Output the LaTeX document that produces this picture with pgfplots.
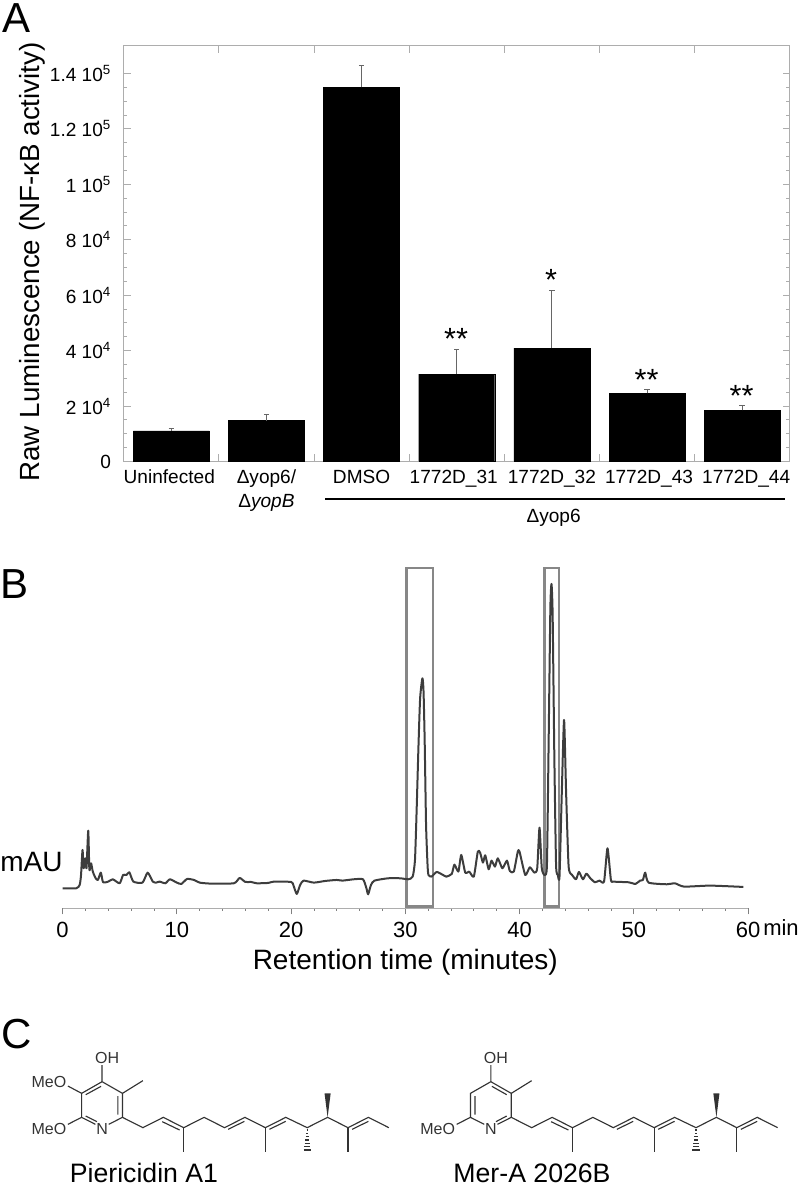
\documentclass[border=0pt]{standalone}
\usepackage{pgfplots}
\pgfplotsset{compat=1.18}
\usepackage{fontspec}
\setmainfont{Liberation Sans}
\definecolor{framegray}{gray}{0.68}
\definecolor{errgray}{gray}{0.4}
\definecolor{boxgray}{gray}{0.53}
\definecolor{tracegray}{gray}{0.24}
\definecolor{molgray}{gray}{0.2}
\newcommand{\fs}[1]{\fontsize{#1}{#1}\selectfont}
\newcommand{\ringsingle}{\draw (200,215)--(240,250)--(240,322)--(213,343) (187,343)--(160,322)--(160,250)--(200,215);
  \draw (200,215)--(200,165) (240,250)--(280,212);
  \draw (240,322)--(280,353)--(320,322)--(360,353)--(400,322)--(440,353)--(480,322)--(520,353)--(560,322)--(602,353)--(642,322)--(682,353)--(722,322)--(762,353);
  \draw (360,353)--(360,425) (520,353)--(520,425) (682,353)--(682,425);
  \draw (318,335)--(352,360) (447,358)--(479,334) (528,358)--(560,334) (690,358)--(722,334);
  \fill (642,322)--(636,250)--(648,250)--cycle;
  \foreach \yy/\ww in {360/1,370/2,380/3,390/4,400/5,410/6,420/7} {\draw (602-\ww,\yy)--(602+\ww,\yy);}
  \node[inner sep=0,font=\fs{12}] at (210,145) {OH};
  \node[inner sep=0,font=\fs{12}] at (200,357) {N};
  \node[anchor=east,inner sep=0,font=\fs{12}] at (131,357) {MeO};
  \draw (160,322)--(133,343);
}
\begin{document}
\begin{tikzpicture}
\path[use as bounding box] (0,0) rectangle (600pt,-891pt);
% ---------- Panel A
\begin{axis}[
  at={(92.8pt,-346.1pt)}, anchor=south west, scale only axis,
  width=499.5pt, height=311.8pt,
  xmin=0, xmax=7, ymin=0, ymax=150000,
  axis line style={framegray,line width=0.6pt},
  tick align=inside, xtick pos=both, ytick pos=both,
  major tick length=5.25pt, minor tick length=2.6pt,
  tick style={framegray,line width=0.6pt},
  scaled y ticks=false,
  ytick={0,20000,40000,60000,80000,100000,120000,140000},
  yticklabels={0,2 10\textsuperscript{4},4 10\textsuperscript{4},6 10\textsuperscript{4},8 10\textsuperscript{4},1 10\textsuperscript{5},1.2 10\textsuperscript{5},1.4 10\textsuperscript{5}},
  minor y tick num=3,
  yticklabel style={font=\fs{14.3},xshift=-6pt},
  xtick={0.5,1.5,2.5,3.5,4.5,5.5,6.5},
  xticklabels={\hspace*{-3pt}Uninfected,Δyop6/\\Δ\textit{yopB},DMSO,\hspace*{-4.5pt}1772D\_31,1772D\_32,\hspace*{3pt}1772D\_43,\hspace*{6pt}1772D\_44},
  x tick style={draw=none},
  xticklabel style={font=\fontsize{14.3}{18}\selectfont,align=center,anchor=north,yshift=-3pt},
  extra x ticks={1,2,3,4,5,6},
  extra x tick labels={},
  extra x tick style={x tick style={draw=framegray,line width=0.6pt},tick style={draw=framegray,line width=0.6pt}},
  ylabel={Raw Luminescence (NF-κB activity)},
  ylabel style={font=\fs{20.8},at={(axis description cs:0,0.48)},anchor=south,yshift=55pt},
]
\addplot[ybar,bar width=57pt,fill=black,draw=black,line width=0.3pt,
  error bars/.cd,y dir=plus,y explicit,
  error bar style={errgray,line width=0.75pt},
  error mark options={errgray,line width=0.75pt,mark size=2pt,rotate=90}]
 table[x=x,y=y,y error=e]{
x y e
0.5 11050 750
1.5 14780 2020
2.5 135000 7900
3.5 31550 8950
4.5 40900 20700
5.5 24600 1400
6.5 18400 1700
};
\end{axis}
% ---------- Panel B
\begin{axis}[
  at={(46.9pt,-681.2pt)}, anchor=south west, scale only axis,
  width=514.1pt, height=258pt,
  xmin=0, xmax=60, ymin=0, ymax=1032,
  axis x line=bottom, axis y line=none,
  axis line style={framegray,line width=0.6pt,-},
  tick align=outside,
  major tick length=4.5pt, minor tick length=2pt,
  tick style={gray,line width=0.5pt},
  xtick={0,10,20,30,40,50,60}, minor x tick num=4,
  xticklabel style={font=\fs{16.5},yshift=-2pt},
  /pgf/number format/assume math mode=true,
  xlabel={Retention time (minutes)},
  xlabel style={font=\fs{21},yshift=-2pt},
  clip=false,
]
\addplot[boxgray,line width=1.75pt] coordinates {(30.1,5)(32.4,5)(32.4,1020)(30.1,1020)(30.1,5)(32.4,5)};
\addplot[boxgray,line width=1.75pt] coordinates {(42.2,5)(43.45,5)(43.45,1020)(42.2,1020)(42.2,5)(43.45,5)};
\addplot[tracegray,line width=1.5pt,line join=round,smooth,tension=0.35] table[row sep=\\]{
0 60\\1.2 60\\1.5 70\\1.62 100\\1.75 175\\1.85 120\\2.0 150\\2.1 120\\2.25 233\\2.35 115\\2.5 135\\2.65 110\\2.9 90\\3.1 85\\3.35 107\\3.55 78\\4 80\\4.4 87\\5 75\\5.3 100\\5.6 100\\5.85 108\\6.2 80\\7 77\\7.45 107\\7.9 80\\8.2 77\\8.5 80\\9 75\\9.4 87\\10 77\\10.4 73\\10.9 88\\11.5 85\\12 77\\13 74\\15 75\\15.5 91\\16 79\\16.5 79\\17 75\\18 76\\18.5 80\\20 79\\20.2 70\\20.5 43\\20.8 70\\21.1 83\\22 77\\23 82\\24 85\\24.5 83\\25.5 87\\26.3 87\\26.6 60\\26.75 42\\27 70\\27.3 83\\28.5 90\\29.55 90\\30.27 87\\30.65 95\\30.85 145\\31 300\\31.15 480\\31.3 630\\31.5 690\\31.6 650\\31.7 500\\31.82 250\\31.95 130\\32.03 100\\32.3 95\\32.75 109\\33.3 100\\33.6 95\\34.07 103\\34.3 131\\34.65 110\\34.9 160\\35.25 107\\35.6 110\\36 95\\36.35 170\\36.55 167\\36.8 137\\37 159\\37.3 117\\37.55 143\\37.85 125\\38.1 150\\38.5 120\\38.9 143\\39.15 112\\39.5 110\\39.85 170\\40 170\\40.5 100\\40.9 123\\41.3 107\\41.55 120\\41.75 242\\41.95 120\\42.2 100\\42.4 130\\42.55 500\\42.7 900\\42.8 973\\42.9 880\\43.05 450\\43.2 130\\43.35 100\\43.5 95\\43.7 345\\43.9 565\\44.08 345\\44.3 125\\44.6 100\\44.95 87\\45.2 109\\45.55 87\\45.85 104\\46.2 90\\46.6 78\\47 83\\47.4 80\\47.7 180\\48 85\\48.2 80\\49.55 78\\50.15 73\\50.55 83\\50.8 85\\51 107\\51.3 77\\52.9 72\\53.6 75\\54.4 65\\56.7 68\\59.6 64\\
};
\end{axis}
% ---------- Annotations in pixel coordinates
\begin{scope}[x=0.75pt,y=-0.75pt]
\node[anchor=base west,inner sep=0,font=\fs{31.5}] at (2,33) {A};
\node[anchor=base west,inner sep=0,font=\fs{31.5}] at (0,598) {B};
\node[anchor=base west,inner sep=0,font=\fs{31.5}] at (1,1048) {C};
\node[font=\fs{23},inner sep=0] at (456,339) {**};
\node[font=\fs{23},inner sep=0] at (551,280) {*};
\node[font=\fs{23},inner sep=0] at (646.5,380) {**};
\node[font=\fs{23},inner sep=0] at (741.5,396) {**};
\draw[black,line width=1.4pt] (325,499.3)--(785,499.3);
\node[font=\fs{14.3},inner sep=0] at (553.6,518) {Δyop6};
\node[font=\fs{21},inner sep=0,anchor=west] at (0,862) {mAU};
\node[font=\fs{16.5},inner sep=0,anchor=west] at (763,928) {min};
\node[font=\fs{20},inner sep=0,anchor=base] at (144,1182) {Piericidin A1};
\node[font=\fs{20},inner sep=0,anchor=base] at (532,1182) {Mer-A 2026B};
\end{scope}
% ---------- Structures
\begin{scope}[x=0.3827pt,y=-0.25pt,yshift=-757.5pt,molgray,line width=0.85pt,every node/.style={text=molgray}]
\ringsingle
\draw (168,254)--(198,229) (231,258)--(231,314) (168,318)--(190,335);
\draw (160,250)--(133,228);
\node[anchor=east,inner sep=0,font=\fs{12}] at (131,215) {MeO};
\end{scope}
\begin{scope}[x=0.3827pt,y=-0.25pt,yshift=-757.5pt,xshift=291.6pt,molgray,line width=0.85pt,every node/.style={text=molgray}]
\ringsingle
\draw (169,258)--(169,314) (202,229)--(231,254) (231,318)--(210,335);
\end{scope}
\end{tikzpicture}
\end{document}
